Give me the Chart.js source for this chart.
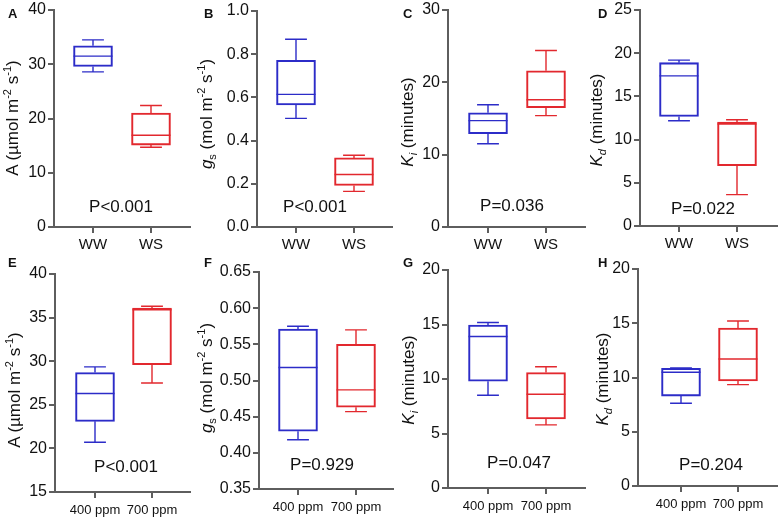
<!DOCTYPE html>
<html lang="en">
<head>
<meta charset="UTF-8">
<title>Box plots</title>
<script src="https://cdn.jsdelivr.net/npm/chart.js"></script>
<style>
  body { margin:0; background:#fff; font-family:"Liberation Sans", Arial, sans-serif; }
  #wrap { position:relative; width:779px; height:517px; overflow:hidden; }
  .pan { position:absolute; }
  .txt { position:absolute; white-space:nowrap; color:#111; z-index:5; }
  .ytitle { font-size:17px; transform:translate(-50%,-50%) rotate(-90deg); }
  .ytitle sup, .ytitle sub { font-size:0.65em; line-height:0; }
  .pval { font-size:17px; transform:translate(-50%,-50%); }
  .letter { font-size:13px; font-weight:bold; }
</style>
</head>
<body>
<div id="wrap"></div>
<script>
// box stats: [min, q1, median, q3, max]
const catsTop = ['WW', 'WS'];
const catsBottom = ['400 ppm', '700 ppm'];

const A_WW = [28.6, 29.6, 31.5, 33.4, 34.5];
const A_WS = [14.7, 15.1, 16.9, 21.0, 22.4];
const B_WW = [0.503, 0.565, 0.614, 0.772, 0.869];
const B_WS = [0.165, 0.192, 0.243, 0.320, 0.332];
const C_WW = [11.5, 12.9, 14.7, 15.8, 16.9];
const C_WS = [15.4, 16.5, 17.6, 21.6, 24.4];
const D_WW = [12.18, 12.67, 17.37, 18.9, 19.2];
const D_WS = [3.63, 6.98, 11.8, 12.02, 12.29];
const E_400 = [20.7, 23.1, 26.3, 28.7, 29.35];
const E_700 = [27.5, 29.6, 35.9, 36.1, 36.3];
const F_400 = [0.418, 0.430, 0.518, 0.571, 0.575];
const F_700 = [0.457, 0.463, 0.487, 0.550, 0.570];
const G_400 = [8.51, 9.8, 13.9, 14.95, 15.19];
const G_700 = [5.79, 6.34, 8.6, 10.6, 11.12];
const H_400 = [7.62, 8.29, 10.48, 10.85, 10.88];
const H_700 = [9.34, 9.68, 11.71, 14.56, 15.21];

const A_ticks = [0, 10, 20, 30, 40];
const B_ticks = [0, 0.2, 0.4, 0.6, 0.8, 1.0];
const C_ticks = [0, 10, 20, 30];
const D_ticks = [0, 5, 10, 15, 20, 25];
const E_ticks = [15, 20, 25, 30, 35, 40];
const F_ticks = [0.35, 0.40, 0.45, 0.50, 0.55, 0.60, 0.65];
const G_ticks = [0, 5, 10, 15, 20];
const H_ticks = [0, 5, 10, 15, 20];

const pLabels = ['P<0.001', 'P<0.001', 'P=0.036', 'P=0.022', 'P<0.001', 'P=0.929', 'P=0.047', 'P=0.204'];

const yTitles = [
  'A (µmol m<sup>-2</sup> s<sup>-1</sup>)',
  '<i>g</i><sub>s</sub> (mol m<sup>-2</sup> s<sup>-1</sup>)',
  '<i>K<sub>i</sub></i> (minutes)',
  '<i>K<sub>d</sub></i> (minutes)',
  'A (µmol m<sup>-2</sup> s<sup>-1</sup>)',
  '<i>g</i><sub>s</sub> (mol m<sup>-2</sup> s<sup>-1</sup>)',
  '<i>K<sub>i</sub></i> (minutes)',
  '<i>K<sub>d</sub></i> (minutes)'
];

const panels = [
  { letter:'A', stats:[A_WW, A_WS], cats:catsTop, ticks:A_ticks, dec:0 },
  { letter:'B', stats:[B_WW, B_WS], cats:catsTop, ticks:B_ticks, dec:1 },
  { letter:'C', stats:[C_WW, C_WS], cats:catsTop, ticks:C_ticks, dec:0 },
  { letter:'D', stats:[D_WW, D_WS], cats:catsTop, ticks:D_ticks, dec:0 },
  { letter:'E', stats:[E_400, E_700], cats:catsBottom, ticks:E_ticks, dec:0 },
  { letter:'F', stats:[F_400, F_700], cats:catsBottom, ticks:F_ticks, dec:2 },
  { letter:'G', stats:[G_400, G_700], cats:catsBottom, ticks:G_ticks, dec:0 },
  { letter:'H', stats:[H_400, H_700], cats:catsBottom, ticks:H_ticks, dec:0 }
];

// pixel layout of each panel
const layout = [
  { axisX:54,  top:10,  bottom:227, x0:93,  x1:151, right:190, row:0, title:[13,118],  p:[121,207], let:[8,6] },
  { axisX:257, top:11,  bottom:227, x0:296, x1:354, right:392, row:0, title:[207,114], p:[315,207], let:[204,6] },
  { axisX:448, top:10,  bottom:227, x0:488, x1:546, right:585, row:0, title:[408,122], p:[512,206], let:[403,6] },
  { axisX:640, top:8,   bottom:226, x0:679, x1:737, right:777, row:0, title:[597,120], p:[703,209], let:[598,6] },
  { axisX:55,  top:274, bottom:492, x0:95,  x1:152, right:190, row:1, title:[15,390],  p:[126,467], let:[8,255] },
  { axisX:259, top:272, bottom:489, x0:298, x1:356, right:393, row:1, title:[207,378], p:[322,465], let:[204,255] },
  { axisX:448, top:270, bottom:488, x0:488, x1:546, right:585, row:1, title:[409,380], p:[519,463], let:[403,255] },
  { axisX:638, top:269, bottom:486, x0:681, x1:738, right:777, row:1, title:[603,379], p:[711,465], let:[598,255] }
];

const BLUE = '#2c2cc8';
const RED = '#e2282e';
const AXIS = '#5e5e5e';
const FONT = '"Liberation Sans", Arial, sans-serif';
Chart.defaults.font.family = FONT;

const wrap = document.getElementById('wrap');

function addText(cls, html, x, y) {
  const d = document.createElement('div');
  d.className = 'txt ' + cls;
  d.innerHTML = html;
  d.style.left = x + 'px';
  d.style.top = y + 'px';
  wrap.appendChild(d);
}

function whiskerPlugin(stats, colors) {
  return {
    id: 'whiskers',
    afterDatasetsDraw(chart) {
      const ctx = chart.ctx;
      const xs = chart.scales.x, ys = chart.scales.y;
      const meta = chart.getDatasetMeta(0);
      ctx.save();
      ctx.lineWidth = 1.4;
      stats.forEach((s, i) => {
        const bar = meta.data[i];
        const cx = xs.getPixelForValue(i);
        const half = bar.width / 2;
        const cap = bar.width * 0.28;
        const y = v => ys.getPixelForValue(v);
        ctx.strokeStyle = colors[i];
        ctx.beginPath();
        // median
        ctx.moveTo(cx - half, y(s[2])); ctx.lineTo(cx + half, y(s[2]));
        // upper whisker
        ctx.moveTo(cx, y(s[3])); ctx.lineTo(cx, y(s[4]));
        ctx.moveTo(cx - cap, y(s[4])); ctx.lineTo(cx + cap, y(s[4]));
        // lower whisker
        ctx.moveTo(cx, y(s[1])); ctx.lineTo(cx, y(s[0]));
        ctx.moveTo(cx - cap, y(s[0])); ctx.lineTo(cx + cap, y(s[0]));
        ctx.stroke();
      });
      ctx.restore();
    }
  };
}

panels.forEach((pn, k) => {
  const L = layout[k];
  const rowTop = L.row === 0 ? 0 : 258;
  const rowH = L.row === 0 ? 258 : 259;
  const left = L.axisX - 46;
  const width = L.right - left + 4;
  const sp = L.x1 - L.x0;
  const xmin = -(L.x0 - L.axisX) / sp;
  const xmax = 1 + (L.right - L.x1) / sp;

  const box = document.createElement('div');
  box.className = 'pan';
  box.style.left = left + 'px';
  box.style.top = rowTop + 'px';
  const cv = document.createElement('canvas');
  cv.width = width; cv.height = rowH;
  cv.style.width = width + 'px'; cv.style.height = rowH + 'px';
  box.appendChild(cv);
  wrap.appendChild(box);

  const colors = [BLUE, RED];
  new Chart(cv, {
    type: 'bar',
    data: {
      datasets: [{
        data: pn.stats.map((s, i) => ({ x: i, y: [s[1], s[3]] })),
        backgroundColor: 'rgba(255,255,255,0)',
        borderColor: colors,
        borderWidth: 1.4,
        borderSkipped: false,
        barThickness: 39
      }]
    },
    options: {
      responsive: false,
      animation: false,
      devicePixelRatio: 1,
      layout: { padding: { top: L.top - rowTop, right: 4, left: 0, bottom: 0 } },
      plugins: { legend: { display: false }, tooltip: { enabled: false } },
      scales: {
        x: {
          type: 'linear',
          offset: false,
          min: xmin, max: xmax,
          afterBuildTicks: ax => { ax.ticks = pn.cats.map((c, i) => ({ value: i })); },
          afterFit: ax => { ax.height = rowTop + rowH - L.bottom; },
          ticks: {
            callback: v => pn.cats[v],
            color: '#111',
            font: { size: L.row === 0 ? 15 : 13 },
            padding: L.row === 0 ? 3 : 5,
            maxRotation: 0,
            autoSkip: false
          },
          grid: { offset: false, drawOnChartArea: false, drawTicks: true, tickLength: 6, color: AXIS, lineWidth: 2 },
          border: { color: AXIS, width: 2 }
        },
        y: {
          min: pn.ticks[0], max: pn.ticks[pn.ticks.length - 1],
          afterBuildTicks: ax => { ax.ticks = pn.ticks.map(v => ({ value: v })); },
          afterFit: ax => { ax.width = 46; },
          ticks: {
            callback: v => Number(v).toFixed(pn.dec),
            color: '#111',
            font: { size: 16, lineHeight: 1 },
            padding: 2
          },
          grid: { drawOnChartArea: false, drawTicks: true, tickLength: 6, color: AXIS, lineWidth: 2 },
          border: { color: AXIS, width: 2 }
        }
      }
    },
    plugins: [whiskerPlugin(pn.stats, colors)]
  });

  addText('ytitle', yTitles[k], L.title[0], L.title[1]);
  addText('pval', pLabels[k], L.p[0], L.p[1]);
  addText('letter', pn.letter, L.let[0], L.let[1]);
});
</script>
</body>
</html>
